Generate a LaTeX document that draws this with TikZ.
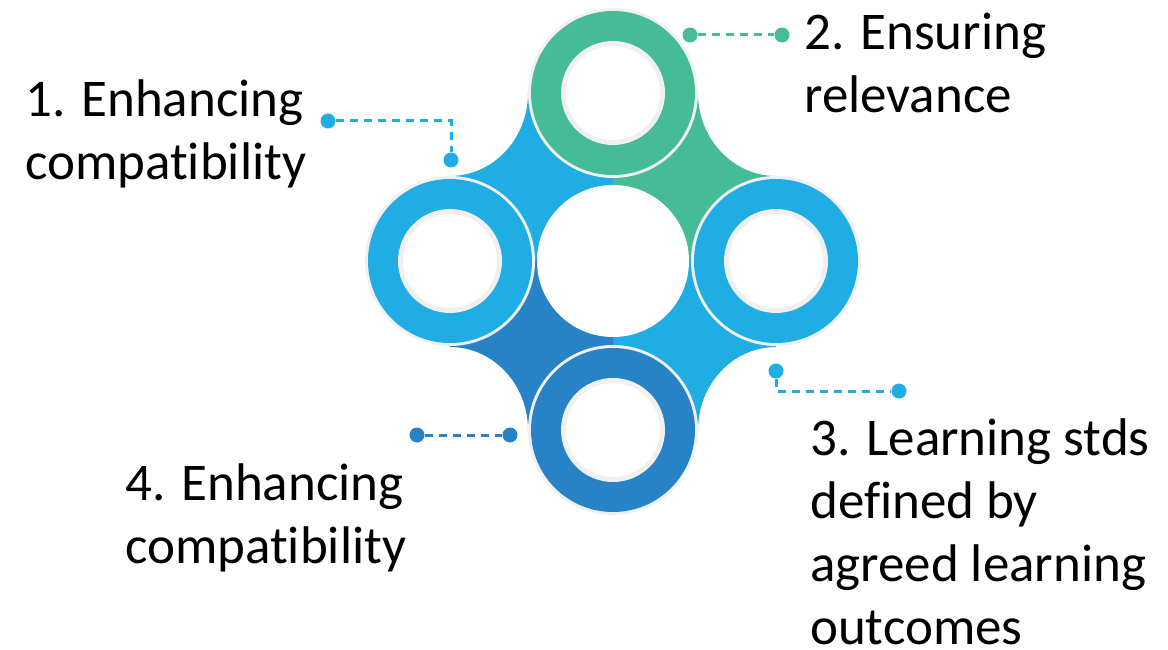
\documentclass[tikz,border=0pt]{standalone}
\usepackage{fontspec}
\setmainfont{Carlito}[Ligatures=NoCommon]
\usetikzlibrary{positioning,calc}
\definecolor{ringgreen}{RGB}{69,187,151}
\definecolor{ringblue}{RGB}{31,173,228}
\definecolor{ringdark}{RGB}{40,131,198}
\definecolor{ringedge}{RGB}{240,240,240}
\tikzset{
  label text/.style={anchor=base west, inner sep=0pt, align=left,
    font={\fontsize{53pt}{63pt}\selectfont}},
  pin dot/.style={circle, fill=#1, inner sep=0pt, minimum size=15pt},
  pin line/.style={draw=#1, line width=3pt, dash pattern=on 8pt off 6pt},
}
% one ring: light edge, coloured band, light edge, white hole
\newcommand{\ringat}[2]{%
  \fill[ringedge] (#1) circle (85pt);
  \fill[#2] (#1) circle (82pt);
  \fill[ringedge] (#1) circle (52pt);
  \fill[white] (#1) circle (47pt);}
% one petal between two rings, cut at the outer corner
\newcommand{\petal}[3]{%
  \begin{scope}
    \clip (#1) rectangle (#2);
    \fill[#3, even odd rule] ($(#1)!-0.2!(#2)$) rectangle ($(#2)!-0.2!(#1)$)
      (#1) ellipse (78pt and 83pt);
  \end{scope}}

\begin{document}
\begin{tikzpicture}[x=1pt, y=-1pt]
    \useasboundingbox (0, 0) rectangle (1168, 650);
    % Ring centres
    \coordinate (mid) at (613, 261);
    \coordinate (top) at (613, 93);
    \coordinate (left) at (450, 261);
    \coordinate (right) at (776, 261);
    \coordinate (bottom) at (613, 430);

    % Petals
    \petal{left |- top}{mid}{ringblue}
    \petal{right |- top}{mid}{ringgreen}
    \petal{right |- bottom}{mid}{ringblue}
    \petal{left |- bottom}{mid}{ringdark}
    % centre hole
    \fill[white] (mid) circle (76pt);

    % Rings
    \ringat{top}{ringgreen}
    \ringat{left}{ringblue}
    \ringat{right}{ringblue}
    \ringat{bottom}{ringdark}

    % Pins
    \node[pin dot=ringblue] (p1a) at (328, 121) {};
    \node[pin dot=ringblue] (p1b) at (451, 160) {};
    \draw[pin line=ringblue] (p1a) -| (p1b);
    \node[pin dot=ringgreen] (p2a) at (690, 35) {};
    \node[pin dot=ringgreen] (p2b) at (782, 35) {};
    \draw[pin line=ringgreen] (p2a) -- (p2b);
    \node[pin dot=ringblue] (p3a) at (776, 371) {};
    \node[pin dot=ringblue] (p3b) at (899, 391) {};
    \draw[pin line=ringblue] (p3a) |- (p3b);
    \node[pin dot=ringdark] (p4a) at (417, 435) {};
    \node[pin dot=ringdark] (p4b) at (510, 435) {};
    \draw[pin line=ringdark] (p4a) -- (p4b);

    % Labels (base = last line)
    \node[label text] (t1) at (25, 179) {1. Enhancing\\compatibility};
    \node[label text] (t2) at (804, 113) {2. Ensuring\\relevance};
    \node[label text] (t3) at (810, 644) {3. Learning stds\\defined by\\agreed learning\\outcomes};
    \node[label text] (t4) at (125, 563) {4. Enhancing\\compatibility};
  \end{tikzpicture}
\end{document}
